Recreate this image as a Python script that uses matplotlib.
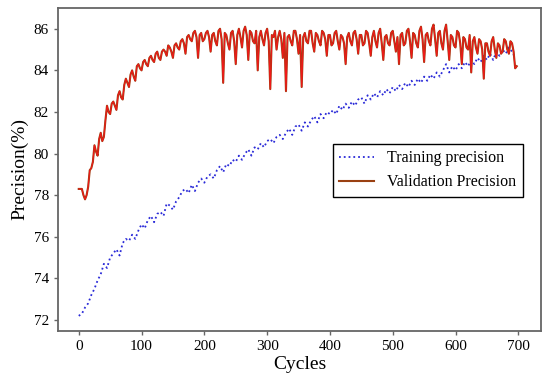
import matplotlib
matplotlib.use("Agg")
import matplotlib.pyplot as plt
import numpy as np

# training precision sampled every 5 cycles
train_cycles = np.arange(0, 700, 5)
train_precision = [
    72.2, 72.3, 72.6, 72.8, 73.2, 73.5, 73.9, 74.2, 74.7, 74.5,
    75.0, 75.2, 75.4, 75.1, 75.7, 75.9, 75.8, 76.1, 75.9, 76.3,
    76.6, 76.4, 76.8, 77.0, 76.7, 77.1, 77.2, 77.0, 77.6, 77.5,
    77.3, 77.7, 77.9, 78.2, 78.3, 78.1, 78.5, 78.2, 78.6, 78.8,
    78.6, 78.9, 79.0, 78.8, 79.2, 79.4, 79.1, 79.5, 79.4, 79.7,
    79.6, 79.9, 79.7, 80.0, 80.2, 79.9, 80.3, 80.2, 80.5, 80.3,
    80.6, 80.7, 80.5, 80.8, 80.9, 80.7, 81.0, 81.2, 80.9, 81.3,
    81.4, 81.1, 81.5, 81.3, 81.6, 81.8, 81.5, 81.9, 81.7, 82.0,
    81.9, 82.1, 81.9, 82.3, 82.1, 82.4, 82.2, 82.5, 82.3, 82.6,
    82.7, 82.4, 82.8, 82.6, 82.9, 82.7, 83.0, 82.8, 83.1, 82.9,
    83.2, 83.0, 83.3, 83.1, 83.4, 83.2, 83.5, 83.3, 83.6, 83.4,
    83.7, 83.5, 83.8, 83.6, 83.9, 83.7, 84.0, 84.3, 83.9, 84.2,
    84.0, 84.3, 84.1, 84.4, 84.2, 84.5, 84.3, 84.6, 84.4, 84.7,
    84.5, 84.8, 84.5, 84.9, 84.7, 85.0, 84.8, 85.1, 84.9, 84.6,
]

# validation precision sampled every 2.5 cycles
val_cycles = np.arange(0, 700, 2.5)
val_precision = [
    78.3, 78.3, 78.3, 78.0, 77.8, 78.0, 78.4, 79.2, 79.3, 79.6,
    80.4, 80.1, 79.9, 80.7, 81.0, 80.6, 80.8, 81.6, 82.3, 82.0,
    81.9, 82.4, 82.5, 82.3, 82.1, 82.8, 83.0, 82.7, 82.6, 83.3,
    83.6, 83.4, 83.2, 83.8, 84.0, 83.7, 83.5, 84.2, 84.3, 84.1,
    84.0, 84.4, 84.5, 84.3, 84.2, 84.6, 84.7, 84.5, 84.4, 84.8,
    84.9, 84.6, 84.5, 84.9, 85.0, 84.9, 84.7, 85.2, 85.1, 84.9,
    84.6, 85.2, 85.3, 85.1, 85.0, 85.4, 85.5, 85.3, 84.8, 85.6,
    85.7, 85.5, 85.4, 85.8, 85.9, 85.6, 84.6, 85.7, 85.8, 85.4,
    85.5, 85.8, 85.9, 85.6, 84.9, 85.7, 85.8, 85.4, 85.2, 85.9,
    86.0, 85.5, 83.4, 85.8, 85.7, 85.3, 85.0, 85.8, 85.9, 85.4,
    84.3, 85.7, 86.0, 85.6, 85.1, 85.9, 86.1, 85.7, 84.5, 85.9,
    85.8, 85.4, 85.3, 85.9, 84.0, 85.6, 85.9, 85.5, 85.2, 85.8,
    86.0, 85.4, 83.1, 85.7, 85.6, 85.9, 85.0, 85.6, 85.9, 85.5,
    84.6, 85.8, 83.0, 85.6, 85.7, 85.4, 85.2, 85.9, 85.9, 85.5,
    84.8, 85.7, 83.2, 85.6, 85.8, 85.4, 85.3, 85.9, 85.9, 85.3,
    84.9, 85.8, 85.7, 85.4, 85.2, 85.9, 85.8, 85.5, 84.7, 85.7,
    85.7, 85.2, 85.3, 85.8, 85.9, 85.4, 85.0, 85.7, 85.6, 85.3,
    84.3, 85.6, 85.8, 85.4, 85.2, 85.8, 85.9, 85.5, 84.8, 85.7,
    85.7, 85.2, 85.3, 85.9, 85.8, 85.3, 84.7, 85.6, 85.9, 85.4,
    85.1, 85.8, 86.0, 85.3, 84.5, 85.6, 85.7, 85.3, 85.2, 85.8,
    85.9, 85.4, 84.9, 85.6, 84.3, 85.7, 85.8, 85.2, 85.3, 85.9,
    86.0, 85.4, 84.6, 85.8, 85.7, 85.3, 85.1, 85.9, 86.1, 85.5,
    84.4, 85.7, 85.8, 85.4, 85.2, 86.0, 86.2, 85.5, 84.7, 85.8,
    85.9, 85.3, 85.0, 85.9, 86.2, 85.4, 84.5, 85.7, 85.6, 85.2,
    85.1, 85.9, 85.8, 85.3, 84.3, 85.6, 85.5, 85.1, 85.0, 85.7,
    83.9, 85.4, 85.6, 85.1, 84.8, 85.5, 85.4, 85.0, 83.6, 85.3,
    85.3, 84.9, 84.7, 85.4, 85.6, 85.0, 84.6, 85.3, 85.2, 84.8,
    84.9, 85.5, 85.4, 85.0, 84.8, 85.4, 85.3, 84.9, 84.1, 84.2,
]

x_ticks = [0, 100, 200, 300, 400, 500, 600, 700]
y_ticks = [72, 74, 76, 78, 80, 82, 84, 86]

plt.rcParams['font.family'] = ['Liberation Serif', 'DejaVu Serif']

fig = plt.figure(figsize=(5.5, 3.79), dpi=100)
ax = fig.add_axes([0.1055, 0.1266, 0.878, 0.8524])

ax.plot(train_cycles, train_precision, linestyle=':', color='#2a2ad8', linewidth=1.3,
        label='Training precision')
ax.plot(val_cycles, val_precision, color='#9a4012', linewidth=1.5,
        label='Validation Precision')
ax.plot(val_cycles, val_precision, color='#f01818', linewidth=0.8)

ax.set_xlim(-33, 736)
ax.set_ylim(71.47, 87.0)
ax.set_xticks(x_ticks)
ax.set_yticks(y_ticks)
ax.tick_params(labelsize=11, color='#666666', length=3, width=1)
ax.set_xlabel('Cycles', fontsize=14, labelpad=2)
ax.set_ylabel('Precision(%)', fontsize=14, labelpad=4)

for spine in ax.spines.values():
    spine.set_color('#666666')
    spine.set_linewidth(1.3)

leg = ax.legend(loc='upper left', bbox_to_anchor=(0.569, 0.579), borderaxespad=0,
                fontsize=11.5, fancybox=False, framealpha=1, handlelength=2.2)
leg.get_frame().set_edgecolor('black')
leg.get_frame().set_linewidth(1.0)

fig.savefig('out.png', dpi=100)
